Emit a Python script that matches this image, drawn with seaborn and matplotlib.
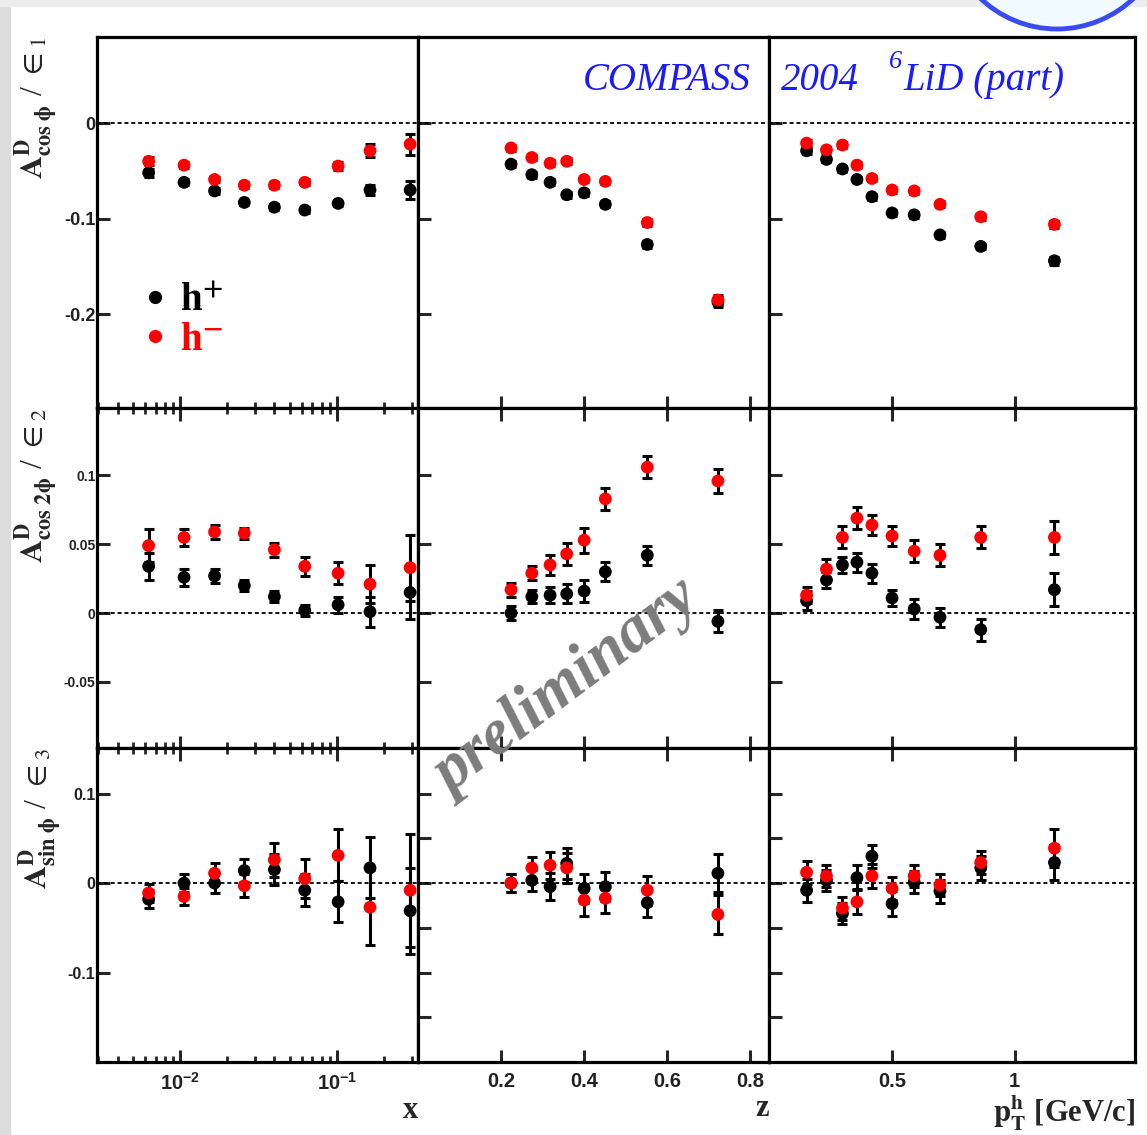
import numpy as np
import pandas as pd
import matplotlib
matplotlib.use('Agg')
import matplotlib.pyplot as plt
import seaborn as sns
from matplotlib.ticker import FixedLocator, FixedFormatter, NullFormatter, NullLocator
from matplotlib.patches import Rectangle, Ellipse
from matplotlib.lines import Line2D

# ---------------- data ----------------
x_bins = [0.0063, 0.0106, 0.0166, 0.0257, 0.040, 0.0625, 0.102, 0.163, 0.294]
z_bins = [0.224, 0.274, 0.318, 0.358, 0.400, 0.451, 0.552, 0.722]
pt_bins = [0.153, 0.234, 0.299, 0.358, 0.419, 0.501, 0.591, 0.696, 0.862, 1.162]

# A_cos phi / eps1
cos_x_hp = [-0.052, -0.062, -0.071, -0.083, -0.088, -0.091, -0.084, -0.070, -0.070]
cos_x_hp_err = [0.004, 0.003, 0.003, 0.003, 0.003, 0.003, 0.003, 0.005, 0.009]
cos_x_hm = [-0.040, -0.044, -0.059, -0.065, -0.065, -0.062, -0.045, -0.029, -0.022]
cos_x_hm_err = [0.004, 0.003, 0.003, 0.003, 0.003, 0.003, 0.004, 0.007, 0.011]
cos_z_hp = [-0.043, -0.054, -0.062, -0.075, -0.073, -0.085, -0.127, -0.187]
cos_z_hp_err = [0.003, 0.003, 0.003, 0.003, 0.003, 0.003, 0.004, 0.005]
cos_z_hm = [-0.026, -0.036, -0.042, -0.040, -0.059, -0.061, -0.104, -0.185]
cos_z_hm_err = [0.003, 0.003, 0.003, 0.003, 0.003, 0.003, 0.004, 0.005]
cos_pt_hp = [-0.029, -0.038, -0.048, -0.059, -0.077, -0.094, -0.096, -0.117, -0.129, -0.144]
cos_pt_hp_err = [0.003, 0.003, 0.003, 0.003, 0.003, 0.003, 0.003, 0.003, 0.003, 0.004]
cos_pt_hm = [-0.021, -0.028, -0.023, -0.044, -0.058, -0.070, -0.071, -0.085, -0.098, -0.106]
cos_pt_hm_err = [0.003, 0.003, 0.003, 0.003, 0.003, 0.003, 0.003, 0.003, 0.003, 0.004]

# A_cos 2phi / eps2
cos2_x_hp = [0.034, 0.026, 0.027, 0.020, 0.012, 0.002, 0.006, 0.001, 0.015]
cos2_x_hp_err = [0.010, 0.006, 0.005, 0.004, 0.004, 0.004, 0.006, 0.011, 0.019]
cos2_x_hm = [0.049, 0.055, 0.059, 0.058, 0.046, 0.034, 0.029, 0.021, 0.033]
cos2_x_hm_err = [0.012, 0.006, 0.005, 0.004, 0.005, 0.007, 0.008, 0.014, 0.024]
cos2_z_hp = [0.000, 0.012, 0.013, 0.014, 0.016, 0.030, 0.042, -0.006]
cos2_z_hp_err = [0.005, 0.005, 0.006, 0.007, 0.008, 0.007, 0.007, 0.008]
cos2_z_hm = [0.017, 0.029, 0.035, 0.043, 0.053, 0.083, 0.106, 0.096]
cos2_z_hm_err = [0.005, 0.005, 0.007, 0.008, 0.009, 0.008, 0.008, 0.009]
cos2_pt_hp = [0.009, 0.024, 0.035, 0.037, 0.029, 0.011, 0.003, -0.003, -0.012, 0.017]
cos2_pt_hp_err = [0.007, 0.006, 0.006, 0.007, 0.007, 0.006, 0.007, 0.007, 0.008, 0.012]
cos2_pt_hm = [0.013, 0.032, 0.055, 0.069, 0.064, 0.056, 0.045, 0.042, 0.055, 0.055]
cos2_pt_hm_err = [0.006, 0.007, 0.008, 0.008, 0.007, 0.007, 0.008, 0.008, 0.008, 0.012]

# A_sin phi / eps3
sin_x_hp = [-0.018, 0.000, 0.000, 0.014, 0.015, -0.008, -0.021, 0.017, -0.031]
sin_x_hp_err = [0.010, 0.010, 0.011, 0.013, 0.017, 0.018, 0.023, 0.034, 0.048]
sin_x_hm = [-0.011, -0.015, 0.011, -0.003, 0.026, 0.005, 0.031, -0.027, -0.008]
sin_x_hm_err = [0.010, 0.010, 0.011, 0.013, 0.019, 0.022, 0.029, 0.042, 0.063]
sin_z_hp = [0.000, 0.003, -0.004, 0.022, -0.006, -0.004, -0.022, 0.011]
sin_z_hp_err = [0.010, 0.012, 0.015, 0.017, 0.016, 0.016, 0.016, 0.021]
sin_z_hm = [0.000, 0.017, 0.020, 0.017, -0.019, -0.017, -0.008, -0.035]
sin_z_hm_err = [0.010, 0.012, 0.015, 0.017, 0.018, 0.017, 0.016, 0.022]
sin_pt_hp = [-0.008, 0.003, -0.034, 0.006, 0.030, -0.023, 0.001, -0.009, 0.017, 0.023]
sin_pt_hp_err = [0.013, 0.012, 0.012, 0.014, 0.013, 0.014, 0.012, 0.013, 0.013, 0.020]
sin_pt_hm = [0.012, 0.008, -0.028, -0.021, 0.008, -0.006, 0.008, -0.002, 0.023, 0.039]
sin_pt_hm_err = [0.013, 0.012, 0.013, 0.014, 0.013, 0.013, 0.012, 0.012, 0.013, 0.021]

row_ylabels = [r'$\mathbf{A^{D}_{cos\ \phi}}$ / $\in_{1}$',
               r'$\mathbf{A^{D}_{cos\ 2\phi}}$ / $\in_{2}$',
               r'$\mathbf{A^{D}_{sin\ \phi}}$ / $\in_{3}$']
col_xlabels = ['x', 'z', r'$\mathbf{p_{T}^{h}}$ [GeV/c]']
x_tick_vals = [[0.01, 0.1], [0.2, 0.4, 0.6, 0.8], [0.5, 1.0]]
x_tick_labels = [[r'$\mathbf{10^{-2}}$', r'$\mathbf{10^{-1}}$'], ['0.2', '0.4', '0.6', '0.8'], ['0.5', '1']]
y_tick_vals = [[-0.2, -0.1, 0.0], [-0.05, 0.0, 0.05, 0.1], [-0.1, 0.0, 0.1]]
y_tick_labels = [['-0.2', '-0.1', '0'], ['-0.05', '0', '0.05', '0.1'], ['-0.1', '0', '0.1']]
series_labels = ['h+', 'h-']
header_parts = ['COMPASS', '2004', '6', 'LiD (part)']

# ---------------- style ----------------
sns.set_theme(style='ticks')
plt.rcParams['font.family'] = ['Liberation Sans', 'DejaVu Sans']
plt.rcParams['mathtext.fontset'] = 'custom'
plt.rcParams['mathtext.rm'] = 'Liberation Sans'
plt.rcParams['mathtext.bf'] = 'Liberation Sans:bold'
plt.rcParams['mathtext.it'] = 'Liberation Sans:italic'

W, H = 1147, 1135
fig = plt.figure(figsize=(W / 100, H / 100), dpi=100)
fig.patch.set_facecolor('white')
fig.patches.append(Rectangle((0, 0), 10 / W, 1, transform=fig.transFigure, color='#dcdcdc', zorder=0))
fig.patches.append(Rectangle((0, 1 - 6 / H), 1, 6 / H, transform=fig.transFigure, color='#ededed', zorder=0))
fig.patches.append(Ellipse((1057 / W, 1 + 82 / H), 2 * 111 / W, 2 * 111 / H, transform=fig.transFigure,
                           facecolor='#f2fbff', edgecolor='#3a4cf0', lw=3.5, zorder=1))

cols = [(97, 418), (418, 769), (769, 1135)]
rows = [(37, 408), (408, 748), (748, 1062)]
xlims = [(0.00295, 0.33), (0.0, 0.845), (0.0, 1.49)]
ylims = [(-0.298, 0.09), (-0.098, 0.149), (-0.2, 0.151)]

data = [
    [(x_bins, cos_x_hp, cos_x_hp_err, cos_x_hm, cos_x_hm_err),
     (z_bins, cos_z_hp, cos_z_hp_err, cos_z_hm, cos_z_hm_err),
     (pt_bins, cos_pt_hp, cos_pt_hp_err, cos_pt_hm, cos_pt_hm_err)],
    [(x_bins, cos2_x_hp, cos2_x_hp_err, cos2_x_hm, cos2_x_hm_err),
     (z_bins, cos2_z_hp, cos2_z_hp_err, cos2_z_hm, cos2_z_hm_err),
     (pt_bins, cos2_pt_hp, cos2_pt_hp_err, cos2_pt_hm, cos2_pt_hm_err)],
    [(x_bins, sin_x_hp, sin_x_hp_err, sin_x_hm, sin_x_hm_err),
     (z_bins, sin_z_hp, sin_z_hp_err, sin_z_hm, sin_z_hm_err),
     (pt_bins, sin_pt_hp, sin_pt_hp_err, sin_pt_hm, sin_pt_hm_err)],
]
pal = {'h+': 'black', 'h-': '#ff0000'}
ytick_fs = [13, 10, 11.5]

axes = {}
for r, (ry0, ry1) in enumerate(rows):
    for c, (cx0, cx1) in enumerate(cols):
        ax = fig.add_axes([cx0 / W, 1 - ry1 / H, (cx1 - cx0) / W, (ry1 - ry0) / H])
        axes[(r, c)] = ax
        ax.set_facecolor('white')
        if c == 0:
            ax.set_xscale('log')
        xs, hp, hpe, hm, hme = data[r][c]
        n = len(xs)
        df = pd.DataFrame({'v': list(xs) * 2, 'A': list(hp) + list(hm), 'err': list(hpe) + list(hme),
                           'h': [series_labels[0]] * n + [series_labels[1]] * n})
        ax.axhline(0, color='black', ls=(0, (2.2, 1.6)), lw=1.3, zorder=1)
        for lab in series_labels:
            d = df[df.h == lab]
            ax.errorbar(d.v, d.A, yerr=d.err, fmt='none', ecolor='black', elinewidth=2.2,
                        capsize=3.5, capthick=2.2, zorder=2)
        sns.scatterplot(data=df, x='v', y='A', hue='h', palette=pal, s=85, linewidth=0,
                        ax=ax, legend=False, zorder=3)
        ax.set_xlim(*xlims[c])
        ax.set_ylim(*ylims[r])
        ax.set_xlabel('')
        ax.set_ylabel('')
        for sp in ax.spines.values():
            sp.set_linewidth(2.3)
            sp.set_color('black')
            sp.set_visible(True)
        # x ticks
        ax.xaxis.set_major_locator(FixedLocator(x_tick_vals[c]))
        if c == 0:
            minors = [m * 10.0 ** e for e in (-3, -2, -1) for m in range(2, 10)]
            ax.xaxis.set_minor_locator(FixedLocator([v for v in minors if xlims[0][0] < v < xlims[0][1]]))
        else:
            ax.xaxis.set_minor_locator(NullLocator())
        if r == 2:
            ax.xaxis.set_major_formatter(FixedFormatter(x_tick_labels[c]))
        else:
            ax.xaxis.set_major_formatter(NullFormatter())
        ax.xaxis.set_minor_formatter(NullFormatter())
        ax.tick_params(axis='x', which='major', direction='in', length=9, width=2.2,
                       top=(r > 0), bottom=True, labelsize=14.5, pad=7)
        ax.tick_params(axis='x', which='minor', direction='in', length=4.5, width=2.0,
                       top=(r > 0), bottom=True)
        # y ticks
        if r == 2 and c > 0:
            ax.yaxis.set_major_locator(FixedLocator([-0.15, -0.1, -0.05, 0.0, 0.05, 0.1]))
        else:
            ax.yaxis.set_major_locator(FixedLocator(y_tick_vals[r]))
        ax.yaxis.set_minor_locator(NullLocator())
        if c == 0:
            ax.yaxis.set_major_formatter(FixedFormatter(y_tick_labels[r]))
        else:
            ax.yaxis.set_major_formatter(NullFormatter())
        ax.tick_params(axis='y', which='major', direction='in', length=9, width=2.2,
                       left=True, right=False, labelsize=ytick_fs[r], pad=1)
        for t in ax.get_xticklabels() + ax.get_yticklabels():
            t.set_fontweight('bold')
            t.set_color('#222222')
        if c == 0:
            ax.set_ylabel(row_ylabels[r], fontsize=23, loc='top', labelpad=2,
                          math_fontfamily='stix', family='Liberation Serif')
        if r == 2:
            ax.set_xlabel(col_xlabels[c], fontsize=22, loc='right', labelpad=2,
                          family='Liberation Serif', fontweight='bold', math_fontfamily='stix')

# legend
ax0 = axes[(0, 0)]
handles = [Line2D([], [], marker='o', ls='', color=pal[l], markersize=8.5) for l in series_labels]
leg = ax0.legend(handles, [r'h$^{\mathbf{+}}$', r'h$^{\mathbf{-}}$'], loc='center left',
                 bbox_to_anchor=(0.145, 0.235), frameon=False, handlelength=0.6, handletextpad=0.35,
                 labelspacing=0.05, borderpad=0, borderaxespad=0,
                 prop={'family': 'Liberation Serif', 'weight': 'bold', 'size': 28})
for t, l in zip(leg.get_texts(), series_labels):
    t.set_color(pal[l])
    t.set_math_fontfamily('stix')

# header text
hdr_kw = dict(color='#1a1aff', fontsize=28, family='Liberation Serif', style='italic',
              ha='left', va='baseline', zorder=10)
fig.text(583 / W, 1 - 90 / H, header_parts[0], **hdr_kw)
fig.text(781 / W, 1 - 90 / H, header_parts[1], **hdr_kw)
fig.text(889 / W, 1 - 68 / H, header_parts[2], **{**hdr_kw, 'fontsize': 19})
fig.text(903 / W, 1 - 90 / H, header_parts[3], **hdr_kw)

# watermark
fig.text(568 / W, 1 - 688 / H, 'preliminary', rotation=37, fontsize=47, family='Liberation Serif',
         style='italic', fontweight='bold', color='#7c7c7c', ha='center', va='center', zorder=10)

fig.savefig('out.png', dpi=100, facecolor=fig.get_facecolor())
